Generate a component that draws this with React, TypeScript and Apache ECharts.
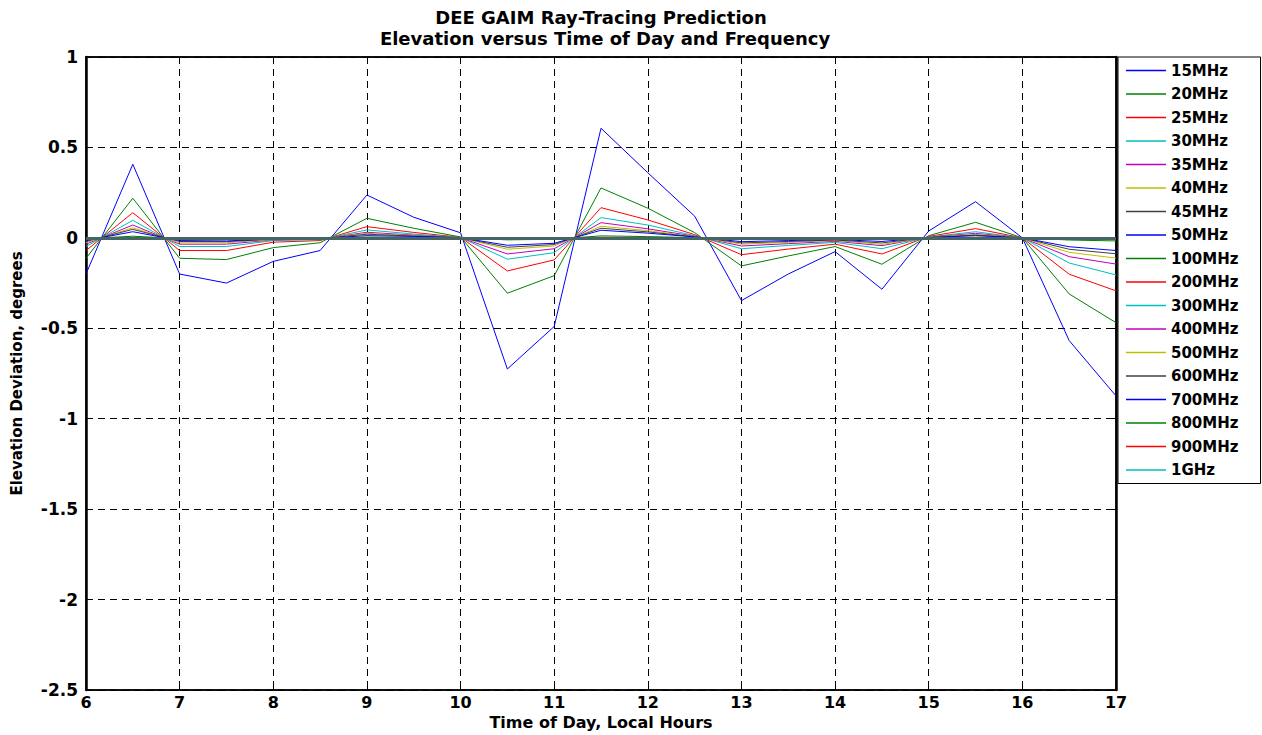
import React, { useEffect, useRef } from "react";
import * as echarts from "echarts";

const times = [6, 6.5, 7, 7.5, 8, 8.5, 9, 9.5, 10, 10.5, 11, 11.5, 12, 12.5, 13, 13.5, 14, 14.5, 15, 15.5, 16, 16.5, 17];

const freqLabels = ["15MHz", "20MHz", "25MHz", "30MHz", "35MHz", "40MHz", "45MHz", "50MHz", "100MHz", "200MHz", "300MHz", "400MHz", "500MHz", "600MHz", "700MHz", "800MHz", "900MHz", "1GHz"];

const lineColors = ["#0000ff", "#008000", "#ff0000", "#00bfbf", "#bf00bf", "#bfbf00", "#404040", "#0000ff", "#008000", "#ff0000", "#00bfbf", "#bf00bf", "#bfbf00", "#404040", "#0000ff", "#008000", "#ff0000", "#00bfbf"];

const v15MHz = [-0.2, 0.407, -0.2, -0.25, -0.13, -0.07, 0.237, 0.114, 0.028, -0.725, -0.49, 0.606, 0.36, 0.12, -0.347, -0.2, -0.076, -0.284, 0.038, 0.2, 0.0, -0.568, -0.874];
const v20MHz = [-0.113, 0.219, -0.113, -0.12, -0.054, -0.027, 0.108, 0.053, 0.005, -0.306, -0.209, 0.276, 0.164, 0.029, -0.155, -0.1, -0.048, -0.146, 0.012, 0.086, 0.0, -0.31, -0.469];
const v25MHz = [-0.07, 0.139, -0.07, -0.07, -0.024, -0.015, 0.062, 0.03, 0.003, -0.183, -0.122, 0.167, 0.099, 0.018, -0.093, -0.062, -0.035, -0.089, 0.008, 0.051, 0.0, -0.201, -0.293];
const v30MHz = [-0.048, 0.097, -0.048, -0.048, -0.015, -0.01, 0.044, 0.021, 0.002, -0.118, -0.082, 0.112, 0.071, 0.012, -0.06, -0.042, -0.025, -0.06, 0.005, 0.034, 0.0, -0.139, -0.205];
const v35MHz = [-0.035, 0.071, -0.035, -0.035, -0.011, -0.007, 0.031, 0.015, 0.001, -0.089, -0.06, 0.084, 0.05, 0.009, -0.045, -0.032, -0.019, -0.043, 0.004, 0.025, 0.0, -0.104, -0.145];
const v40MHz = [-0.027, 0.056, -0.027, -0.027, -0.009, -0.005, 0.025, 0.012, 0.001, -0.063, -0.045, 0.064, 0.04, 0.007, -0.035, -0.025, -0.015, -0.036, 0.003, 0.019, 0.0, -0.08, -0.112];
const v45MHz = [-0.02, 0.047, -0.02, -0.021, -0.007, -0.004, 0.02, 0.01, 0.001, -0.052, -0.037, 0.053, 0.033, 0.006, -0.028, -0.02, -0.012, -0.028, 0.002, 0.015, 0.0, -0.063, -0.088];
const v50MHz = [-0.015, 0.034, -0.015, -0.017, -0.006, -0.003, 0.012, 0.008, 0.001, -0.041, -0.03, 0.042, 0.026, 0.005, -0.021, -0.015, -0.009, -0.02, 0.002, 0.012, 0.0, -0.049, -0.07];
const v100MHz = [-0.004, 0.009, -0.004, -0.005, -0.002, -0.001, 0.004, 0.002, 0.0, -0.011, -0.008, 0.011, 0.007, 0.001, -0.006, -0.004, -0.002, -0.005, 0.0, 0.003, 0.0, -0.012, -0.017];
const v200MHz = [-0.001, 0.002, -0.001, -0.001, 0.0, 0.0, 0.001, 0.001, 0.0, -0.003, -0.002, 0.003, 0.002, 0.0, -0.002, -0.001, -0.001, -0.001, 0.0, 0.001, 0.0, -0.003, -0.005];
const v300MHz = [0.0, 0.001, 0.0, 0.0, 0.0, 0.0, 0.0, 0.0, 0.0, -0.001, -0.001, 0.001, 0.001, 0.0, -0.001, 0.0, 0.0, 0.0, 0.0, 0.0, 0.0, -0.001, -0.002];
const v400MHz = [0.0, 0.0, 0.0, 0.0, 0.0, 0.0, 0.0, 0.0, 0.0, -0.001, 0.0, 0.001, 0.0, 0.0, 0.0, 0.0, 0.0, 0.0, 0.0, 0.0, 0.0, -0.001, -0.001];
const v500MHz = [0.0, 0.0, 0.0, 0.0, 0.0, 0.0, 0.0, 0.0, 0.0, 0.0, 0.0, 0.0, 0.0, 0.0, 0.0, 0.0, 0.0, 0.0, 0.0, 0.0, 0.0, -0.001, -0.001];
const v600MHz = [0.0, 0.0, 0.0, 0.0, 0.0, 0.0, 0.0, 0.0, 0.0, 0.0, 0.0, 0.0, 0.0, 0.0, 0.0, 0.0, 0.0, 0.0, 0.0, 0.0, 0.0, 0.0, -0.001];
const v700MHz = [0.0, 0.0, 0.0, 0.0, 0.0, 0.0, 0.0, 0.0, 0.0, 0.0, 0.0, 0.0, 0.0, 0.0, 0.0, 0.0, 0.0, 0.0, 0.0, 0.0, 0.0, 0.0, 0.0];
const v800MHz = [0.0, 0.0, 0.0, 0.0, 0.0, 0.0, 0.0, 0.0, 0.0, 0.0, 0.0, 0.0, 0.0, 0.0, 0.0, 0.0, 0.0, 0.0, 0.0, 0.0, 0.0, 0.0, 0.0];
const v900MHz = [0.0, 0.0, 0.0, 0.0, 0.0, 0.0, 0.0, 0.0, 0.0, 0.0, 0.0, 0.0, 0.0, 0.0, 0.0, 0.0, 0.0, 0.0, 0.0, 0.0, 0.0, 0.0, 0.0];
const v1GHz = [0.0, 0.0, 0.0, 0.0, 0.0, 0.0, 0.0, 0.0, 0.0, 0.0, 0.0, 0.0, 0.0, 0.0, 0.0, 0.0, 0.0, 0.0, 0.0, 0.0, 0.0, 0.0, 0.0];

const allValues = [v15MHz, v20MHz, v25MHz, v30MHz, v35MHz, v40MHz, v45MHz, v50MHz, v100MHz, v200MHz, v300MHz, v400MHz, v500MHz, v600MHz, v700MHz, v800MHz, v900MHz, v1GHz];

const titleLines = ["DEE GAIM Ray-Tracing Prediction", "Elevation versus Time of Day and Frequency"];
const xAxisTitle = "Time of Day, Local Hours";
const yAxisTitle = "Elevation Deviation, degrees";

const FONT = "DejaVu Sans";

export default function App() {
  const ref = useRef<HTMLDivElement>(null);
  useEffect(() => {
    const chart = echarts.init(ref.current as HTMLDivElement, null, { renderer: "svg" });
    const series: any[] = allValues.map((vals, si) => ({
      name: freqLabels[si],
      type: "line",
      symbol: "none",
      showSymbol: false,
      data: times.map((t, i) => [t, vals[i]]),
      lineStyle: { color: lineColors[si], width: 1 },
      itemStyle: { color: lineColors[si] },
      z: 3 + si * 0.01,
    }));
    series[series.length - 1].markLine = {
      silent: true,
      symbol: "none",
      label: { show: false },
      lineStyle: { color: "#456464", width: 3, type: "solid" },
      data: [{ yAxis: 0 }],
    };
    const labelStyle = { color: "#000", fontFamily: FONT, fontWeight: "bold", fontSize: 17 };
    const option: any = {
      animation: false,
      backgroundColor: "#fff",
      graphic: [
        {
          type: "text",
          x: 601,
          y: 17,
          style: { text: titleLines[0], fill: "#000", font: `bold 18px "${FONT}"`, textAlign: "center", textVerticalAlign: "middle" },
        },
        {
          type: "text",
          x: 605,
          y: 38,
          style: { text: titleLines[1], fill: "#000", font: `bold 18px "${FONT}"`, textAlign: "center", textVerticalAlign: "middle" },
        },
      ],
      grid: { left: 86, right: 146, top: 57, bottom: 45, show: true, borderColor: "#000", borderWidth: 1.5, backgroundColor: "#fff", outerBoundsMode: "none", containLabel: false },
      legend: {
        orient: "vertical",
        left: 1118,
        top: 57,
        padding: [6, 22, 6, 8],
        itemWidth: 40,
        itemHeight: 14,
        itemGap: 8.5,
        itemTextGap: 6,
        icon: "path://M0,0h40v1.5h-40z",
        borderColor: "#000",
        borderWidth: 1,
        backgroundColor: "#fff",
        textStyle: { color: "#000", fontFamily: FONT, fontWeight: "bold", fontSize: 15, lineHeight: 14 },
        data: freqLabels,
      },
      xAxis: [
        {
          type: "value",
          min: 6,
          max: 17,
          interval: 1,
          position: "bottom",
          axisLine: { show: true, onZero: false, lineStyle: { color: "#000", width: 1.5 } },
          axisTick: { show: true, inside: true, length: 5, lineStyle: { color: "#000" } },
          axisLabel: { ...labelStyle, fontSize: 16, margin: 4 },
          splitLine: { show: true, lineStyle: { color: "#000", type: [7, 5], width: 1 } },
          name: xAxisTitle,
          nameLocation: "middle",
          nameGap: 24,
          nameMoveOverlap: false,
          nameTextStyle: { ...labelStyle, fontSize: 16 },
        },
        {
          type: "value",
          min: 6,
          max: 17,
          interval: 1,
          position: "top",
          axisLine: { show: true, onZero: false, lineStyle: { color: "#000", width: 1.5 } },
          axisTick: { show: true, inside: true, length: 5, lineStyle: { color: "#000" } },
          axisLabel: { show: false },
          splitLine: { show: false },
        },
      ],
      yAxis: [
        {
          type: "value",
          min: -2.5,
          max: 1,
          interval: 0.5,
          position: "left",
          axisLine: { show: true, onZero: false, lineStyle: { color: "#000", width: 2.5 } },
          axisTick: { show: true, inside: true, length: 5, lineStyle: { color: "#000" } },
          axisLabel: { ...labelStyle, margin: 8, formatter: (v: number) => String(v) },
          splitLine: { show: true, lineStyle: { color: "#000", type: [7, 5], width: 1 } },
          name: yAxisTitle,
          nameLocation: "middle",
          nameGap: 62,
          nameTextStyle: { ...labelStyle, fontSize: 15 },
        },
        {
          type: "value",
          min: -2.5,
          max: 1,
          interval: 0.5,
          position: "right",
          axisLine: { show: true, onZero: false, lineStyle: { color: "#000", width: 2.5 } },
          axisTick: { show: true, inside: true, length: 5, lineStyle: { color: "#000" } },
          axisLabel: { show: false },
          splitLine: { show: false },
        },
      ],
      series,
    };
    chart.setOption(option);
    return () => chart.dispose();
  }, []);
  return <div ref={ref} style={{ position: "fixed", left: 0, top: 0, width: 1262, height: 735, background: "#fff" }} />;
}
